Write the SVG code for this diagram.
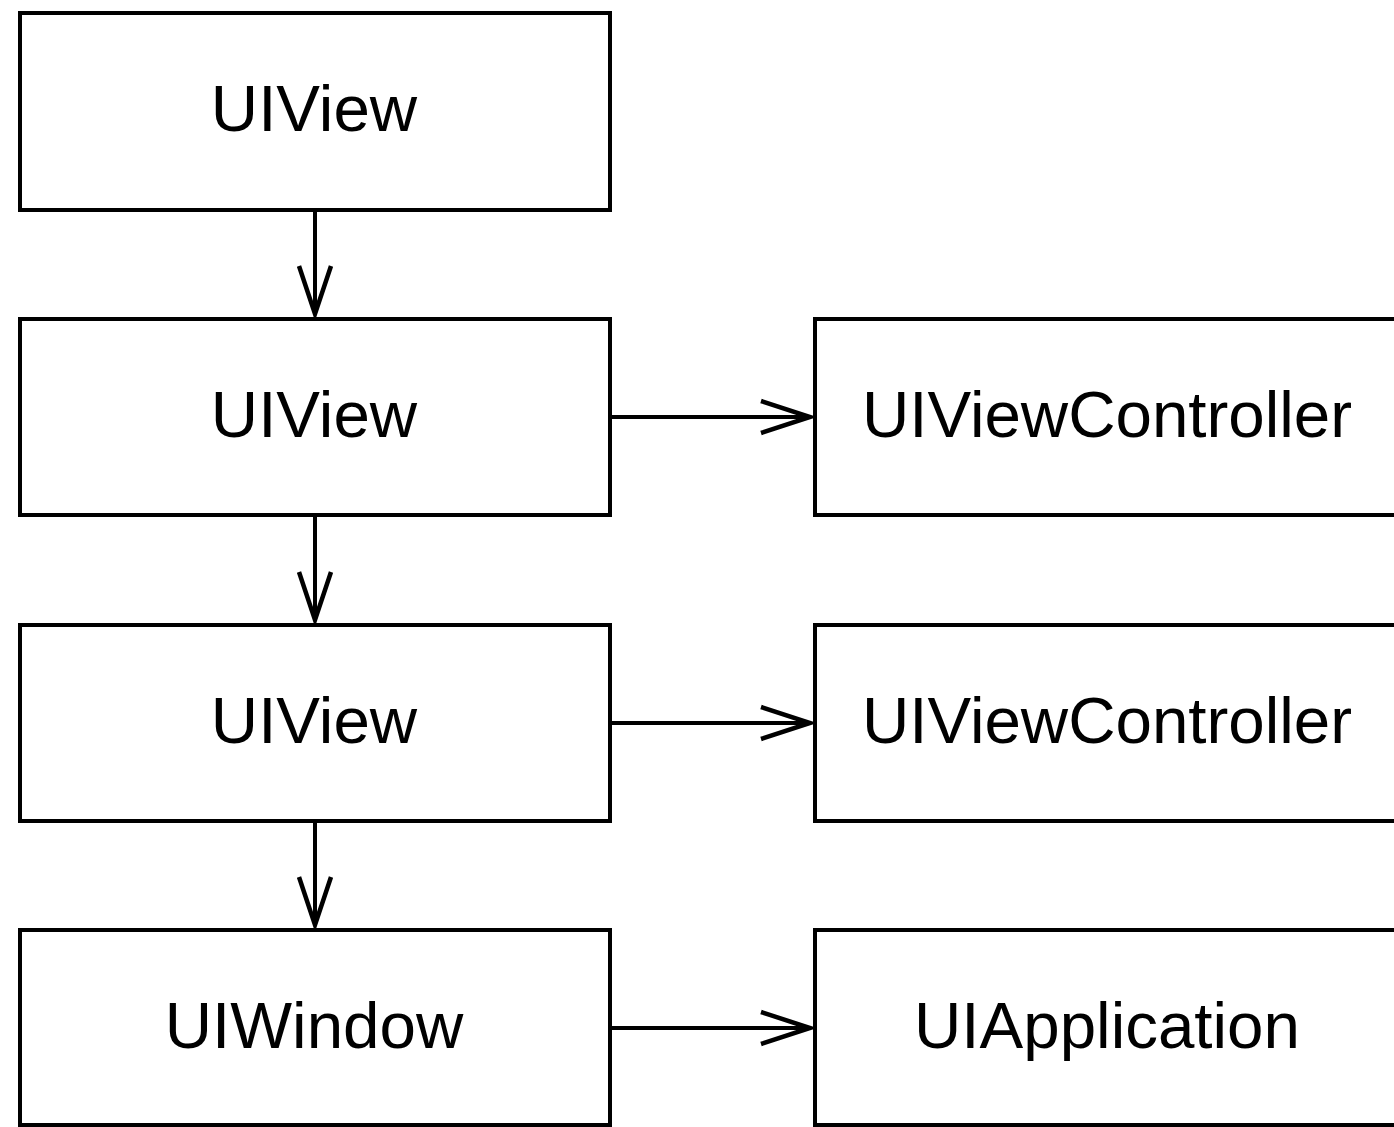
<svg xmlns="http://www.w3.org/2000/svg" width="1394" height="1127" viewBox="0 0 1394 1127">
<style>
.box{fill:#fff;stroke:#000;stroke-width:4}
.lbl{font-family:"Liberation Sans",Arial,sans-serif;font-size:65.5px;fill:#000;text-anchor:middle}
.con{fill:none;stroke:#000;stroke-width:4}
.head{fill:none;stroke:#000;stroke-width:4.5}
</style>
<rect width="1394" height="1127" fill="#fff"/>
<g id="connectors">
<path class="con" d="M315 210V314"/><path class="head" d="M299 266L315 314L331 266"/>
<path class="con" d="M315 515V620"/><path class="head" d="M299 572L315 620L331 572"/>
<path class="con" d="M315 821V925"/><path class="head" d="M299 877L315 925L331 877"/>
<path class="con" d="M610 417H810"/><path class="head" d="M761 401L810 417L761 433"/>
<path class="con" d="M610 723H810"/><path class="head" d="M761 707L810 723L761 739"/>
<path class="con" d="M610 1028H810"/><path class="head" d="M761 1012L810 1028L761 1044"/>
</g>
<g id="view1"><rect class="box" x="20" y="13" width="590" height="197"/><text class="lbl" x="314" y="131">UIView</text></g>
<g id="view2"><rect class="box" x="20" y="319" width="590" height="196"/><text class="lbl" x="314" y="437">UIView</text></g>
<g id="view3"><rect class="box" x="20" y="625" width="590" height="196"/><text class="lbl" x="314" y="743">UIView</text></g>
<g id="window"><rect class="box" x="20" y="930" width="590" height="195"/><text class="lbl" x="314" y="1048">UIWindow</text></g>
<g id="vc1"><rect class="box" x="815" y="319" width="590" height="196"/><text class="lbl" x="1107" y="437">UIViewController</text></g>
<g id="vc2"><rect class="box" x="815" y="625" width="590" height="196"/><text class="lbl" x="1107" y="743">UIViewController</text></g>
<g id="app"><rect class="box" x="815" y="930" width="590" height="195"/><text class="lbl" x="1107" y="1048">UIApplication</text></g>
</svg>
